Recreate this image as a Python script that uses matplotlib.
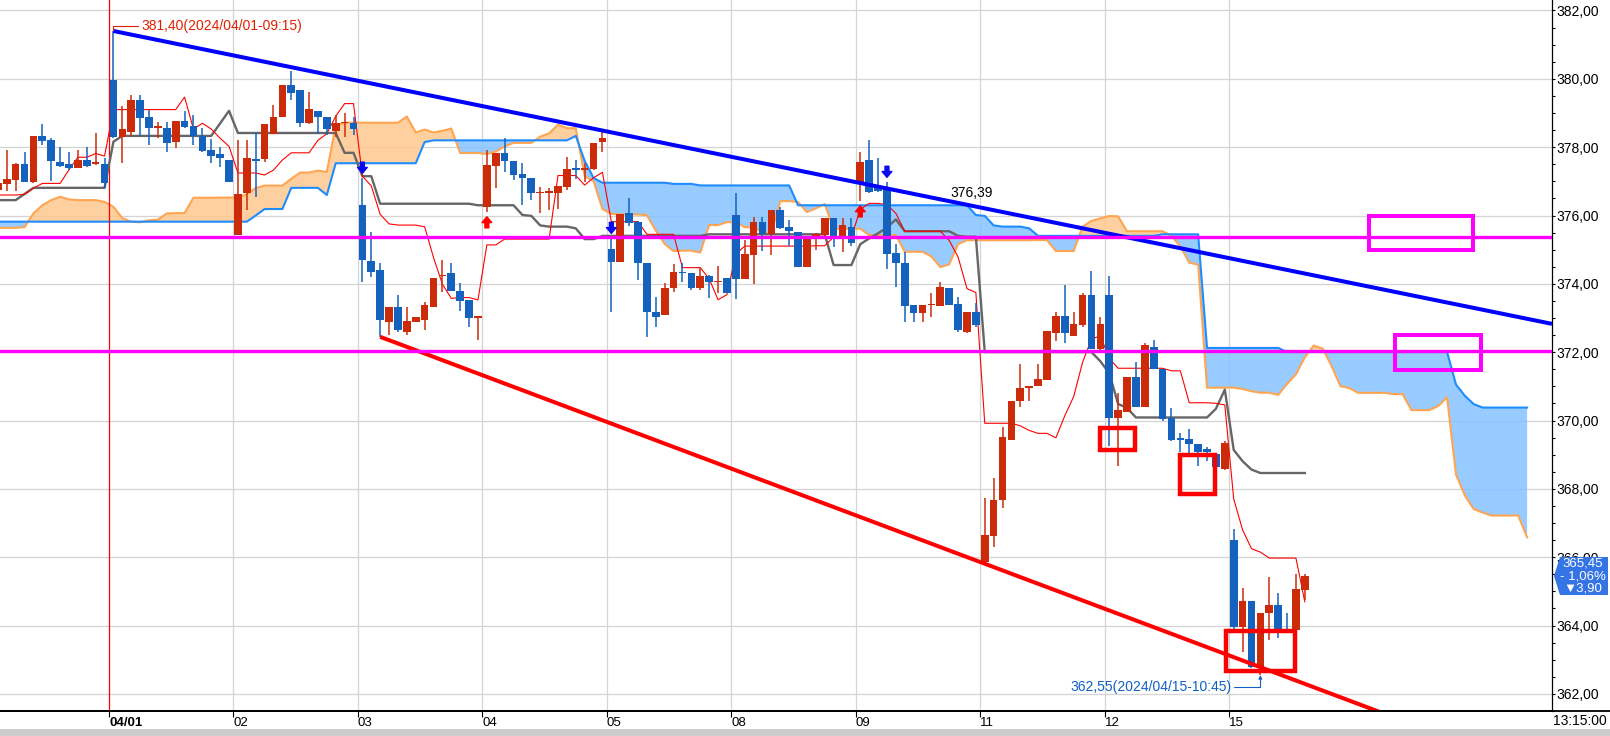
import numpy as np
import matplotlib
matplotlib.use('Agg')
import matplotlib.pyplot as plt
import matplotlib.transforms as mtransforms
from matplotlib.patches import Rectangle, Polygon
from matplotlib.lines import Line2D
from matplotlib.ticker import MultipleLocator, FuncFormatter

plt.rcParams['font.family'] = ['Liberation Sans Narrow', 'Liberation Sans', 'DejaVu Sans']

# 30 min bars, 14 per day (08:45 ~ 15:45). bar 0 = first bar of 04/01
day_labels = ['04/01', '02', '03', '04', '05', '08', '09', '11', '12', '15']
day_dates = ['2024/04/01', '2024/04/02', '2024/04/03', '2024/04/04', '2024/04/05',
             '2024/04/08', '2024/04/09', '2024/04/11', '2024/04/12', '2024/04/15']
first_bar = -13
bars_per_day = 14

opens = [
    376.75, 376.91, 377.04, 377.51, 376.97, 378.33, 378.21, 377.56, 377.51, 377.40, 377.62, 377.50, 377.51,
    379.97, 378.31, 378.45, 379.38, 378.89, 378.55, 378.55, 378.16, 378.77, 378.62, 378.33, 377.92, 377.79, 377.62,
    375.43, 376.65, 377.62, 377.66, 378.38, 378.87, 379.82, 379.67, 378.70, 379.06, 378.87, 378.47, 378.70, 378.72,
    376.31, 374.67, 374.41, 372.89, 373.33, 372.60, 372.89, 372.94, 373.31, 374.22, 374.31, 373.80, 373.53, 373.01,
    376.26, 377.46, 377.82, 377.61, 377.22, 377.11, 376.65, 376.67, 376.65, 376.84, 377.38, 377.34, 377.36, 378.16,
    375.02, 374.65, 376.06, 375.80, 374.60, 373.17, 373.09, 373.87, 374.36, 374.31, 373.87, 374.24, 374.04, 374.16,
    376.01, 374.14, 374.84, 375.82, 375.45, 376.16, 375.65, 375.51, 374.50, 375.31, 375.43, 375.94, 375.30, 375.65,
    376.97, 377.62, 376.87, 376.80, 374.91, 374.60, 373.38, 373.16, 373.38, 373.36, 373.89, 373.40, 372.60, 373.19,
    365.85, 366.63, 367.67, 369.43, 370.58, 370.94, 371.00, 371.19, 372.56, 373.06, 372.48, 372.80, 373.67, 372.10,
    373.67, 370.08, 370.26, 371.28, 370.41, 372.14, 371.51, 370.06, 369.46, 369.46, 369.30, 369.17, 369.02, 368.58,
    366.50, 363.97, 364.72, 362.80, 364.36, 364.60, 363.89, 363.87, 365.04,
]
highs = [
    377.30, 377.92, 377.55, 377.85, 378.33, 378.68, 378.27, 378.01, 377.85, 377.92, 378.01, 378.41, 377.67,
    381.40, 379.20, 379.53, 379.53, 379.09, 378.75, 378.75, 378.77, 379.06, 378.94, 378.55, 378.23, 378.01, 377.62,
    378.21, 378.21, 378.45, 378.68, 379.23, 379.82, 380.24, 379.67, 379.62, 379.06, 378.87, 378.95, 378.99, 378.89,
    377.09, 375.53, 374.60, 373.33, 373.67, 373.31, 373.04, 373.48, 374.16, 374.70, 374.60, 374.02, 373.53, 373.06,
    377.92, 377.82, 378.26, 377.61, 377.53, 377.11, 376.84, 376.80, 376.86, 377.70, 377.63, 377.55, 378.13, 378.45,
    375.33, 376.03, 376.50, 375.85, 374.60, 373.62, 374.02, 374.58, 374.62, 374.31, 374.45, 374.26, 374.52, 374.18,
    376.65, 375.28, 375.95, 375.95, 376.16, 376.24, 375.87, 375.51, 375.31, 375.50, 375.94, 375.94, 375.92, 375.92,
    377.87, 378.21, 377.67, 376.97, 375.17, 374.94, 373.38, 373.38, 373.72, 374.04, 373.89, 373.62, 373.19, 373.45,
    367.72, 368.31, 369.82, 370.58, 371.65, 371.02, 371.65, 372.62, 373.19, 373.97, 373.19, 373.72, 374.38, 373.04,
    374.23, 370.80, 371.28, 371.72, 372.26, 372.36, 371.51, 370.36, 369.63, 369.75, 369.30, 369.23, 369.02, 369.40,
    366.84, 365.09, 364.72, 364.38, 365.43, 364.94, 364.38, 365.51, 365.52,
]
lows = [
    376.00, 376.73, 376.73, 376.99, 376.95, 378.06, 377.02, 377.43, 377.33, 377.38, 377.43, 377.48, 376.80,
    378.28, 377.53, 378.33, 378.33, 378.06, 378.26, 377.87, 377.97, 378.55, 378.06, 377.87, 377.53, 377.43, 376.99,
    375.43, 376.16, 376.55, 377.57, 378.38, 378.87, 379.38, 378.60, 378.68, 378.38, 378.36, 378.31, 378.31, 378.36,
    374.06, 374.21, 372.45, 372.50, 372.60, 372.50, 372.89, 372.65, 373.31, 373.77, 373.80, 373.22, 372.75, 372.36,
    376.11, 376.80, 377.28, 377.04, 376.31, 376.45, 376.08, 376.16, 376.18, 376.75, 377.07, 376.99, 377.33, 377.87,
    373.19, 374.65, 375.70, 374.11, 372.45, 372.75, 373.09, 373.77, 374.06, 373.82, 373.82, 373.58, 373.72, 373.72,
    373.56, 374.14, 373.99, 374.97, 374.84, 375.60, 375.11, 374.50, 374.50, 375.00, 375.30, 375.09, 374.94, 375.10,
    376.43, 376.65, 376.70, 374.43, 373.92, 372.87, 372.87, 372.87, 373.04, 373.36, 373.38, 372.60, 372.55, 372.75,
    365.80, 366.31, 367.43, 369.43, 370.39, 370.58, 371.00, 371.19, 372.34, 372.28, 372.48, 372.75, 372.10, 372.00,
    369.26, 368.68, 370.26, 370.41, 370.41, 371.51, 370.00, 369.40, 369.09, 368.92, 368.68, 368.83, 368.65, 368.55,
    363.90, 363.24, 362.75, 362.55, 363.58, 363.63, 363.77, 363.80, 364.75,
]
closes = [
    376.95, 377.07, 377.51, 376.99, 378.33, 378.19, 377.60, 377.46, 377.40, 377.62, 377.46, 377.57, 376.96,
    378.31, 378.52, 379.38, 378.86, 378.55, 378.62, 378.11, 378.77, 378.60, 378.33, 377.89, 377.74, 377.67, 376.99,
    376.63, 377.67, 377.60, 378.68, 378.87, 379.82, 379.60, 378.70, 379.12, 378.87, 378.52, 378.72, 378.72, 378.53,
    374.70, 374.36, 372.94, 373.33, 372.65, 372.92, 373.04, 373.38, 374.16, 374.24, 373.80, 373.50, 373.01, 373.06,
    377.48, 377.82, 377.61, 377.19, 377.11, 376.65, 376.67, 376.69, 376.86, 377.36, 377.34, 377.36, 378.13, 378.26,
    374.65, 376.03, 375.79, 374.60, 373.17, 373.04, 373.87, 374.36, 374.31, 373.87, 374.24, 374.04, 374.07, 373.74,
    374.14, 374.87, 375.82, 375.45, 376.16, 375.64, 375.56, 374.50, 375.31, 375.45, 375.94, 375.38, 375.72, 375.20,
    377.58, 376.70, 376.73, 374.87, 374.60, 373.35, 373.16, 373.38, 373.40, 373.90, 373.38, 372.65, 373.19, 372.79,
    366.65, 367.67, 369.53, 370.58, 370.94, 371.02, 371.21, 372.62, 373.06, 372.56, 372.83, 373.67, 372.10, 372.83,
    370.08, 370.31, 371.28, 370.41, 372.21, 371.51, 370.04, 369.43, 369.44, 369.30, 369.09, 369.07, 368.65, 369.35,
    363.97, 364.72, 362.80, 364.38, 364.60, 363.87, 363.87, 365.07, 365.45,
]

# ichimoku values whose window starts before the first visible bar
tenkan_early = [376.60, 376.60, 376.60, 376.62, 376.80, 376.94, 376.94, 376.94]
kijun_early = [376.45, 376.45, 376.45, 376.63, 376.81, 376.81, 376.81, 376.81, 376.81,
               376.81, 376.81, 376.81, 376.81, 378.16, 378.33, 378.33, 378.33, 378.33,
               378.33, 378.33, 378.33, 378.33, 378.33, 378.33, 378.33]
span_a_early = [375.64, 375.64, 375.64, 375.66, 376.06, 376.30, 376.45, 376.55, 376.47,
                376.45, 376.45, 376.45, 376.40, 376.25, 375.92, 375.82, 375.80, 375.86,
                375.88, 376.06, 376.07, 376.07, 376.52, 376.52, 376.52]
span_b_early = [375.82, 375.82, 375.82, 375.82, 375.82, 375.82, 375.82, 375.82, 375.82, 375.82,
                375.82, 375.82, 375.82, 375.82, 375.82, 375.82, 375.82, 375.82, 375.82, 375.82,
                375.82, 375.82, 375.82, 375.82, 375.82, 375.82, 375.82, 375.82, 375.82,
                376.00, 376.19, 376.19, 376.19, 376.81, 376.81, 376.81, 376.81, 376.60,
                377.53, 377.53, 377.53, 377.53, 377.53, 377.53, 377.53, 377.53, 377.53, 377.53,
                378.15, 378.20, 378.20, 378.20, 378.20, 378.20, 378.20, 378.20, 378.20,
                378.20, 378.20, 378.20, 378.20, 378.20, 378.20, 378.20, 378.20,
                378.33, 377.60, 377.10, 376.96, 376.96, 376.96, 376.96, 376.96, 376.96, 376.96, 376.96]

# signals, user drawn lines and boxes (bar, price)
sell_bars = [28, 56, 87]
buy_bars = [42, 84]
support_levels = [375.36, 372.04]
resist_line = [(0, 381.40), (158.2, 373.02)]
support_line = [(30, 372.45), (132.3, 362.46)]
magenta_boxes = [(141.2, 152.9, 374.98, 375.98), (144.1, 153.85, 371.49, 372.51)]
red_boxes = [(111.0, 114.85, 369.14, 369.78), (120.0, 123.85, 367.84, 368.98),
             (125.15, 132.85, 362.67, 363.83)]
trend_value_label = (94.1, 376.66, '376,39')
clock_label = '13:15:00'

UP = '#CC2B0A'
DOWN = '#1462BE'

def comma(v):
    return f'{v:.2f}'.replace('.', ',')

o = np.array(opens); h = np.array(highs); l = np.array(lows); c = np.array(closes)
N = len(c)
bars = np.arange(first_bar, first_bar + N)

def midpoint(period, i):
    return (h[i - period + 1:i + 1].max() + l[i - period + 1:i + 1].min()) / 2

shift = 25
tenkan = list(tenkan_early) + [midpoint(9, i) for i in range(len(tenkan_early), N)]
kijun = list(kijun_early) + [midpoint(26, i) for i in range(len(kijun_early), N)]
span_x = np.arange(first_bar, first_bar + N + shift)
span_a = list(span_a_early) + [(tenkan[j - shift] + kijun[j - shift]) / 2
                               for j in range(len(span_a_early), N + shift)]
span_b = list(span_b_early) + [midpoint(52, j - shift) for j in range(len(span_b_early), N + shift)]
span_a = np.array(span_a); span_b = np.array(span_b)

fig = plt.figure(figsize=(16.1, 7.36), dpi=100)
ax = fig.add_axes([0, 25 / 736, 1552 / 1610, 711 / 736])
x_lo, x_hi = -12.76, 161.8
ax.set_xlim(x_lo, x_hi)
ax.set_ylim(361.50, 382.307)

# grid
for y in range(362, 383, 2):
    ax.axhline(y, color='#D4D4D4', lw=0.9, zorder=0)
day_pos = [d * bars_per_day - 0.5 for d in range(len(day_labels))]
for xp in day_pos[1:]:
    ax.axvline(xp, color='#D4D4D4', lw=0.9, zorder=0)
ax.axvline(day_pos[0], color='#FF0000', lw=0.9, zorder=3)

# cloud
ax.fill_between(span_x, span_a, span_b, where=span_a >= span_b, interpolate=True,
                color='#FFC88E', alpha=0.85, lw=0, zorder=1)
ax.fill_between(span_x, span_a, span_b, where=span_a < span_b, interpolate=True,
                color='#86C2FF', alpha=0.85, lw=0, zorder=1)
ax.plot(span_x, span_a, color='#FFA552', lw=1.5, zorder=2)
ax.plot(span_x, span_b, color='#1E8CFF', lw=1.5, zorder=2)
ax.plot(bars, kijun, color='#666666', lw=1.7, zorder=3)
ax.plot(bars, tenkan, color='#FF0000', lw=0.8, zorder=3)

# candles
cols = [UP if cc >= oo else DOWN for oo, cc in zip(o, c)]
ax.vlines(bars, l, h, colors=cols, lw=1.1, zorder=4)
body_lo = np.minimum(o, c)
body_h = np.maximum(np.abs(c - o), 0.04)
ax.bar(bars, body_h, bottom=body_lo, width=0.86, color=cols, lw=0, zorder=4)

# trend lines, extended to the right edge
for pts, col in [(resist_line, '#0000FF'), (support_line, '#FF0000')]:
    (x0, y0), (x1, y1) = pts
    slope = (y1 - y0) / (x1 - x0)
    ax.plot([x0, x_hi], [y0, y0 + slope * (x_hi - x0)], color=col, lw=2.9,
            solid_capstyle='butt', zorder=5)
for lvl in support_levels:
    ax.axhline(lvl, color='#FF00FF', lw=2.4, zorder=5)
for (xa, xb, ya, yb) in magenta_boxes:
    ax.add_patch(Rectangle((xa, ya), xb - xa, yb - ya, fill=False, ec='#FF00FF', lw=2.9, zorder=6))
for (xa, xb, ya, yb) in red_boxes:
    ax.add_patch(Rectangle((xa, ya), xb - xa, yb - ya, fill=False, ec='#FF0000', lw=3.2, zorder=6))

# signal arrows
up_off = mtransforms.offset_copy(ax.transData, fig=fig, y=5, units='dots')
dn_off = mtransforms.offset_copy(ax.transData, fig=fig, y=-5, units='dots')
for b in sell_bars:
    i = b - first_bar
    ax.annotate('', xy=(b, h[i]), xycoords=up_off, xytext=(0, 8), textcoords='offset points',
                arrowprops=dict(arrowstyle='simple,head_length=0.6,head_width=1.0,tail_width=0.4',
                                mutation_scale=7, color='#0A0AF0', shrinkA=0, shrinkB=0), zorder=7)
for b in buy_bars:
    i = b - first_bar
    ax.annotate('', xy=(b, l[i]), xycoords=dn_off, xytext=(0, -8), textcoords='offset points',
                arrowprops=dict(arrowstyle='simple,head_length=0.6,head_width=1.0,tail_width=0.4',
                                mutation_scale=7, color='#FF0000', shrinkA=0, shrinkB=0), zorder=7)

def bar_stamp(i):
    n = bars[i]
    k = n % bars_per_day
    d = n // bars_per_day
    mins = 8 * 60 + 45 + 30 * (k + 1)
    return f'{day_dates[d]}-{mins // 60:02d}:{mins % 60:02d}'

ih = int(np.argmax(h))
il = int(np.argmin(l))
ax.annotate(f'{comma(h[ih])}({bar_stamp(ih)})', xy=(bars[ih], h[ih]), xytext=(20, 3.5),
            textcoords='offset points', ha='left', va='center', fontsize=10, color='#E02000',
            arrowprops=dict(arrowstyle='-', color='#E02000', lw=0.8, shrinkA=0, shrinkB=1,
                            relpos=(0, 0.5), connectionstyle='angle,angleA=0,angleB=90,rad=0'),
            zorder=7)
ax.annotate(f'{comma(l[il])}({bar_stamp(il)})', xy=(bars[il], l[il]), xytext=(-21, -8.4),
            textcoords='offset points', ha='right', va='center', fontsize=10, color='#1060C8',
            arrowprops=dict(arrowstyle='-|>', mutation_scale=5, color='#1060C8', lw=0.8,
                            shrinkA=0, shrinkB=0, relpos=(1, 0.5),
                            connectionstyle='angle,angleA=0,angleB=90,rad=0'),
            zorder=7)
ax.text(trend_value_label[0], trend_value_label[1], trend_value_label[2], ha='left', va='center',
        fontsize=10, color='black', zorder=7)

# axes styling
for s in ['top', 'left']:
    ax.spines[s].set_visible(False)
ax.spines['right'].set_color('black')
ax.spines['right'].set_linewidth(0.9)
ax.spines['bottom'].set_color('black')
ax.spines['bottom'].set_linewidth(1.3)
ax.yaxis.tick_right()
ax.yaxis.set_major_locator(MultipleLocator(2))
ax.yaxis.set_minor_locator(MultipleLocator(0.5))
ax.yaxis.set_major_formatter(FuncFormatter(lambda v, p: comma(v)))
ax.tick_params(axis='y', which='both', direction='out', length=2.4, width=0.8, pad=1,
               labelsize=10, colors='black')
ax.set_xticks(day_pos)
ax.set_xticklabels(day_labels)
ax.tick_params(axis='x', direction='out', length=4, width=0.8, pad=0, labelsize=9.5)
for k, lbl in enumerate(ax.get_xticklabels()):
    lbl.set_horizontalalignment('left')
    if k == 0:
        lbl.set_fontweight('bold')

# bottom line extends under the price scale, scroll bar strip
fig.add_artist(Line2D([0, 1], [25 / 736, 25 / 736], transform=fig.transFigure, color='black', lw=1.3))
fig.add_artist(Rectangle((0, 0), 1, 7 / 736, transform=fig.transFigure, color='#CDCDCD', lw=0))
fig.text(1607 / 1610, 1 - 721 / 736, clock_label, ha='right', va='center', fontsize=10)

# current price tag
last = c[-1]
prev = c[-1 - (N - 1) % bars_per_day - 1] if False else c[bars.tolist().index(bars_per_day * 9 - 1)]
chg = last - prev
pct = chg / prev * 100
ty = ax.transData.transform((0, last))[1]
tag = Polygon([(1554, ty), (1560, ty + 19), (1608, ty + 19), (1608, ty - 19), (1560, ty - 19)],
              closed=True, transform=mtransforms.IdentityTransform(), fc='#3474E4', ec='none', zorder=5)
fig.add_artist(tag)
tag_lines = [comma(last), f'- {comma(abs(pct))}%', ('▼' if chg < 0 else '▲') + comma(abs(chg))]
for k, txt in enumerate(tag_lines):
    fig.text(1583 / 1610, (ty + 12.3 - 12.3 * k) / 736, txt, ha='center', va='center',
             fontsize=9.5, color='white', zorder=6)

fig.savefig('out.png', dpi=100)
